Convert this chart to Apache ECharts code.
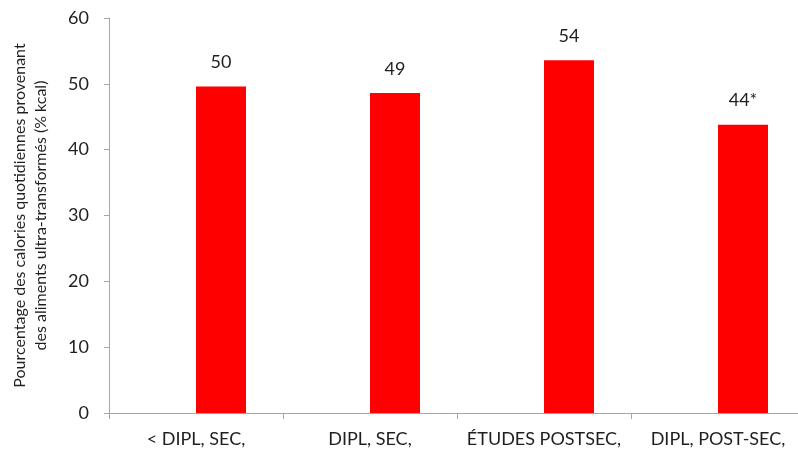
<!DOCTYPE html>
<html><head><meta charset="utf-8">
<script src="https://cdn.jsdelivr.net/npm/echarts@6/dist/echarts.min.js"></script>
<style>html,body{margin:0;padding:0;background:#fff}#c{width:798px;height:452px}</style>
</head><body><div id="c"></div>
<script>
const categories = ['< DIPL, SEC,', 'DIPL, SEC,', 'ÉTUDES POSTSEC,', 'DIPL, POST-SEC,'];
const values = [49.6, 48.6, 53.6, 43.8];
const valueLabels = ['50', '49', '54', '44*'];
const yTicks = [0, 10, 20, 30, 40, 50, 60];
const yTitle = 'Pourcentage des calories quotidiennes provenant\ndes aliments ultra-transformés (% kcal)';

const chart = echarts.init(document.getElementById('c'));
chart.setOption({
  animation: false,
  textStyle: { fontFamily: 'Lato' },
  grid: { left: 109, top: 18, width: 696, bottom: 39, containLabel: false, outerBoundsMode: 'none' },
  xAxis: {
    type: 'category',
    data: categories,
    axisLine: { lineStyle: { color: '#a6a6a6', width: 1 } },
    axisTick: { show: true, length: 6, interval: 0, lineStyle: { color: '#a6a6a6' } },
    axisLabel: { color: '#1f1f1f', fontSize: 18, margin: 17, interval: 0, fontFamily: 'Lato' }
  },
  yAxis: {
    type: 'value',
    min: yTicks[0], max: yTicks[yTicks.length - 1], interval: 10,
    name: yTitle,
    nameLocation: 'middle',
    nameGap: 58,
    nameRotate: 90,
    nameTextStyle: { color: '#1f1f1f', fontSize: 16, lineHeight: 21, fontFamily: 'Lato' },
    axisLine: { show: true, lineStyle: { color: '#a6a6a6' } },
    axisTick: { show: true, length: 5, lineStyle: { color: '#a6a6a6' } },
    splitLine: { show: false },
    axisLabel: { color: '#1f1f1f', fontSize: 18, margin: 20, fontFamily: 'Lato' }
  },
  series: [
    { type: 'bar', data: categories.map(() => null), barWidth: 50, barGap: '0%' },
    {
      type: 'bar', data: values, barWidth: 50, barGap: '0%',
      itemStyle: { color: '#ff0000' },
      label: {
        show: true, position: 'top', distance: 15,
        color: '#1f1f1f', fontSize: 18, fontFamily: 'Lato',
        formatter: p => valueLabels[p.dataIndex]
      }
    }
  ]
});
</script></body></html>
